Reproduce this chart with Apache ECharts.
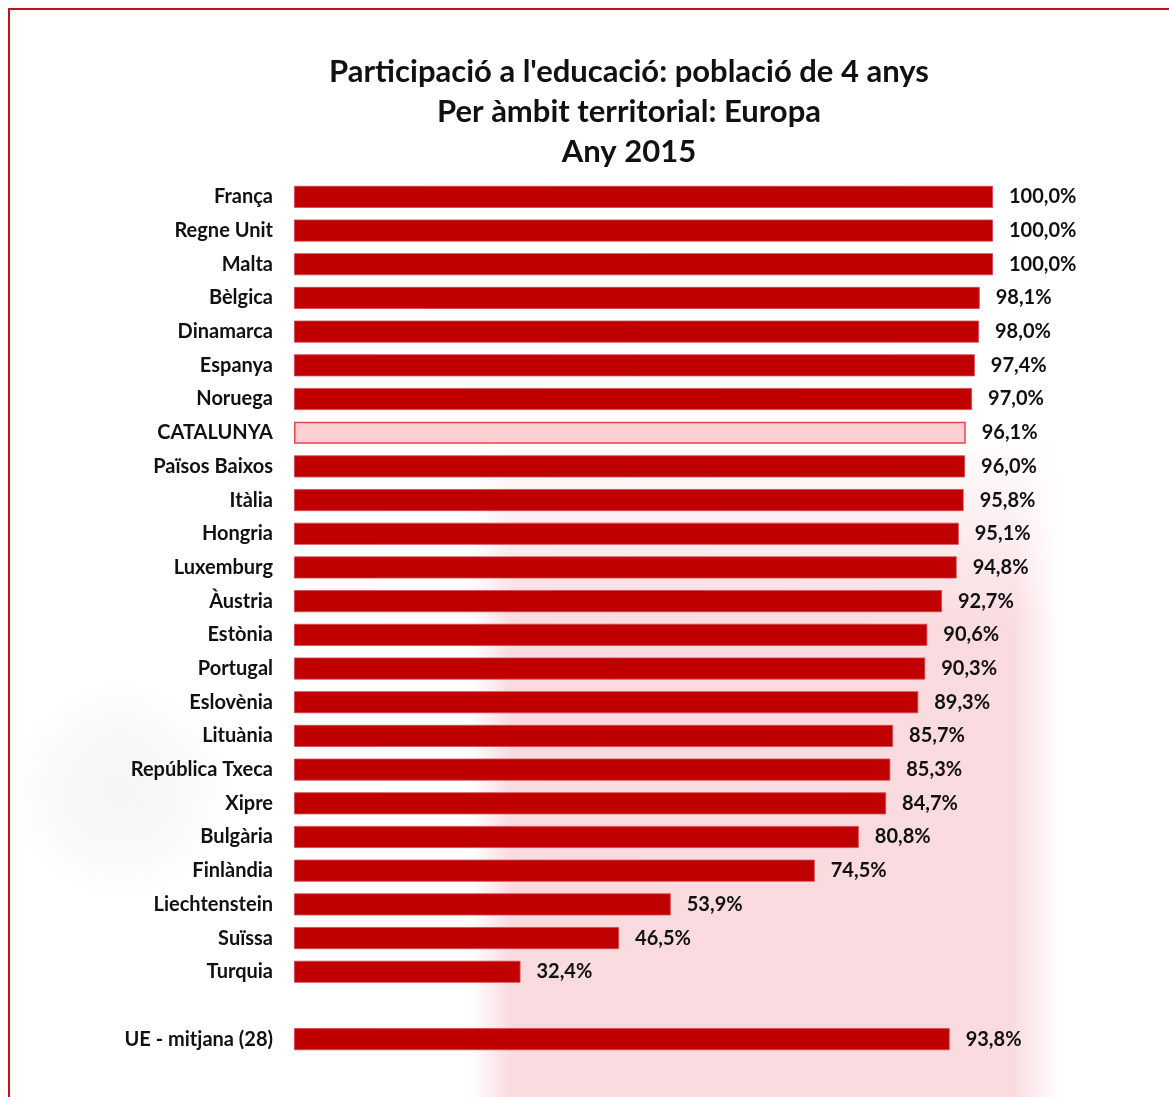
<!DOCTYPE html>
<html><head><meta charset="utf-8">
<script src="https://cdn.jsdelivr.net/npm/echarts@6/dist/echarts.min.js"></script>
<style>html,body{margin:0;padding:0;background:#fff}#c{width:1169px;height:1097px}</style>
</head><body><div id="c"></div>
<script>
const categories = ['França','Regne Unit','Malta','Bèlgica','Dinamarca','Espanya','Noruega','CATALUNYA','Països Baixos','Itàlia','Hongria','Luxemburg','Àustria','Estònia','Portugal','Eslovènia','Lituània','República Txeca','Xipre','Bulgària','Finlàndia','Liechtenstein','Suïssa','Turquia','','UE - mitjana (28)'];
const values = [100.0,100.0,100.0,98.1,98.0,97.4,97.0,96.1,96.0,95.8,95.1,94.8,92.7,90.6,90.3,89.3,85.7,85.3,84.7,80.8,74.5,53.9,46.5,32.4,null,93.8];
const highlight = 'CATALUNYA';
const titleLines = ["Participació a l'educació: població de 4 anys", 'Per àmbit territorial: Europa', 'Any 2015'];

const FONT = 'Lato';
const chart = echarts.init(document.getElementById('c'));
const data = values.map((v, i) => {
  if (categories[i] === highlight) {
    return {value: v, itemStyle: {color: '#FFD0D2', borderColor: '#E0474F', borderWidth: 1.5}};
  }
  return v;
});
const hGrad = new echarts.graphic.LinearGradient(0, 0, 1, 0, [
  {offset: 0, color: 'rgba(246,200,206,0)'},
  {offset: 0.07, color: 'rgba(246,200,206,0.65)'},
  {offset: 0.92, color: 'rgba(246,200,206,0.65)'},
  {offset: 1, color: 'rgba(246,200,206,0)'}
]);
const vFade = new echarts.graphic.LinearGradient(0, 0, 0, 1, [
  {offset: 0, color: 'rgba(255,255,255,1)'},
  {offset: 1, color: 'rgba(255,255,255,0)'}
]);
const gGrad = new echarts.graphic.RadialGradient(0.5, 0.5, 0.5, [
  {offset: 0, color: 'rgba(0,0,0,0.04)'},
  {offset: 0.6, color: 'rgba(0,0,0,0.025)'},
  {offset: 1, color: 'rgba(0,0,0,0)'}
]);
chart.setOption({
  backgroundColor: '#fff',
  animation: false,
  graphic: [
    {type: 'rect', z: -10, silent: true, shape: {x: 470, y: 430, width: 590, height: 700}, style: {fill: hGrad}},
    {type: 'rect', z: -9, silent: true, shape: {x: 460, y: 430, width: 610, height: 200}, style: {fill: vFade}},
    {type: 'rect', z: -10, silent: true, shape: {x: 10, y: 440, width: 220, height: 700}, style: {fill: gGrad}},
    {type: 'rect', z: 100, silent: true, shape: {x: 9, y: 9, width: 1200, height: 1200},
     style: {fill: 'none', stroke: '#C8101A', lineWidth: 2}}
  ],
  title: {
    text: titleLines.join('\n'),
    left: 624, top: 47, textAlign: 'center',
    textStyle: {fontFamily: FONT, fontWeight: 'bold', fontSize: 31, lineHeight: 40, color: '#111'}
  },
  grid: {left: 294, top: 180, width: 699, height: 876, containLabel: false},
  xAxis: {type: 'value', min: 0, max: 100, show: false},
  yAxis: {
    type: 'category', data: categories, inverse: true,
    axisLine: {show: false}, axisTick: {show: false}, splitLine: {show: false},
    axisLabel: {margin: 21, fontFamily: FONT, fontWeight: 'bold', fontSize: 20, color: '#111'}
  },
  series: [{
    type: 'bar', data: data, barWidth: 22,
    itemStyle: {color: '#C00000', borderColor: '#D64550', borderWidth: 0.8},
    label: {
      show: true, position: 'right', distance: 16,
      fontFamily: FONT, fontWeight: 'bold', fontSize: 20, color: '#111',
      formatter: p => p.value == null ? '' : p.value.toFixed(1).replace('.', ',') + '%'
    }
  }]
});
</script></body></html>
